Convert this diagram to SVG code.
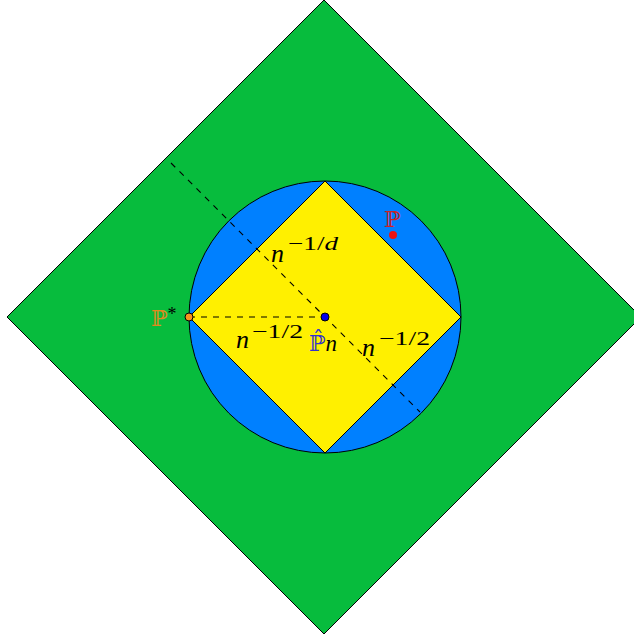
<svg xmlns="http://www.w3.org/2000/svg" width="634" height="640" viewBox="0 0 634 640">
<style>
.m{font-family:"Liberation Serif","DejaVu Serif",serif;fill:#000}
.i{font-style:italic}
.bb{font-family:"DejaVu Serif","DejaVu Sans",serif}
.dash{stroke:#000;stroke-width:1.1;stroke-dasharray:6,6;fill:none}
</style>
<rect width="634" height="640" fill="#fff"/>
<g id="diamond"><polygon points="324,0 641,317 324,634 7,317" fill="#07BC3D" stroke="#000" stroke-width="1"/></g>
<g id="circle"><circle cx="325" cy="317" r="136" fill="#0080FF" stroke="#000" stroke-width="1"/></g>
<g id="square"><polygon points="325,181 461,317 325,453 189,317" fill="#FFF000" stroke="#000" stroke-width="1"/></g>
<g id="connectors">
<line class="dash" x1="171" y1="163" x2="420" y2="412"/>
<line class="dash" x1="189" y1="317" x2="325" y2="317"/>
</g>
<g id="pstar">
<circle cx="189" cy="317" r="4" fill="#F7931E" stroke="#000" stroke-width="1"/>
<text x="151" y="326" font-size="22" fill="#E08A1E"><tspan class="bb">ℙ</tspan><tspan class="m" font-size="18" dy="-6" fill="#E08A1E">*</tspan></text>
</g>
<g id="phat">
<circle cx="325" cy="317" r="4" fill="#0000EE" stroke="#000" stroke-width="1"/>
<text x="309" y="351" font-size="22" fill="#3333CC"><tspan class="bb">ℙ̂</tspan><tspan class="m i" font-size="23" fill="#3333CC">n</tspan></text>
</g>
<g id="p">
<circle cx="393" cy="235" r="4" fill="#EE1111"/>
<text class="bb" x="384" y="227" font-size="22" fill="#CC2222">ℙ</text>
</g>
<g id="lbl1">
<text class="m i" x="271" y="262" font-size="26">n</text>
<text class="m" x="288" y="250" font-size="19" textLength="50" lengthAdjust="spacingAndGlyphs">−1/<tspan font-style="italic">d</tspan></text>
</g>
<g id="lbl2">
<text class="m i" x="236" y="348" font-size="26">n</text>
<text class="m" x="252" y="338" font-size="19" textLength="51" lengthAdjust="spacingAndGlyphs">−1/2</text>
</g>
<g id="lbl3">
<text class="m i" x="362" y="356" font-size="26">n</text>
<text class="m" x="379" y="345" font-size="19" textLength="51" lengthAdjust="spacingAndGlyphs">−1/2</text>
</g>
</svg>
